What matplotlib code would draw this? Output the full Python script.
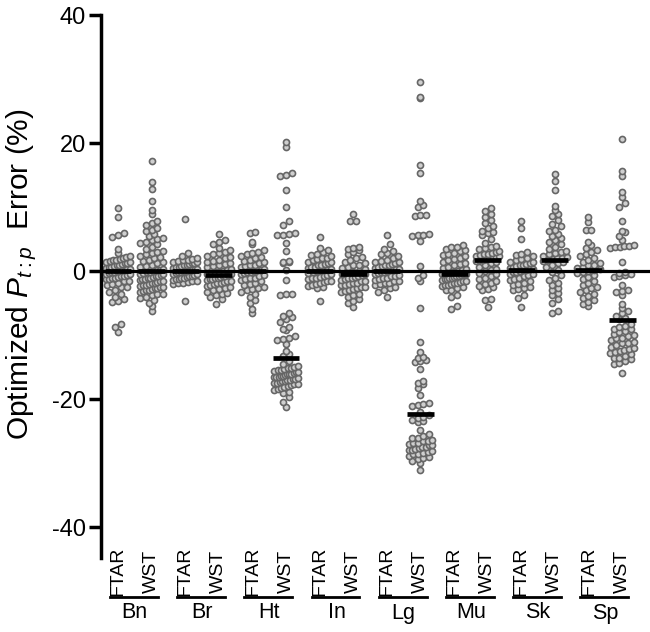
import numpy as np
import matplotlib
matplotlib.use('Agg')
import matplotlib.pyplot as plt
import matplotlib.transforms as mtransforms
from matplotlib.lines import Line2D

plt.rcParams['font.family'] = 'Liberation Sans'
plt.rcParams['mathtext.fontset'] = 'custom'
plt.rcParams['mathtext.it'] = 'Liberation Sans:italic'
plt.rcParams['mathtext.rm'] = 'Liberation Sans'
plt.rcParams['axes.unicode_minus'] = False

# dados (erro %, por tecido e metodo)
tissues = ['Bn', 'Br', 'Ht', 'In', 'Lg', 'Mu', 'Sk', 'Sp']
methods = ['FTAR', 'WST']

bn_ftar = [9.8, 8.4, 6.0, 5.6, 5.4, 3.5, 2.8, 2.3, 2.2, 2.0, 1.9, 1.8, 1.7, 1.6, 1.5, 1.4, 1.3, 1.2,
           1.1, 1.0, 0.9, 0.8, 0.7, 0.6, 0.5, 0.4, 0.3, 0.2, 0.1, 0.0, 0.0, -0.1, -0.2, -0.3, -0.4,
           -0.5, -0.6, -0.7, -0.8, -0.9, -1.0, -1.1, -1.2, -1.3, -1.5, -1.6, -1.8, -2.0, -2.2, -2.4,
           -2.5, -3.0, -3.3, -3.5, -4.0, -4.3, -4.6, -4.8, -8.3, -8.8, -9.5]
bn_wst = [17.2, 13.9, 12.8, 11.0, 9.6, 9.0, 7.8, 7.5, 7.2, 6.8, 6.5, 6.2, 5.8, 5.5, 5.2, 5.0, 4.8,
          4.6, 4.4, 4.2, 3.8, 3.5, 3.2, 3.0, 2.8, 2.6, 2.4, 2.2, 2.0, 1.8, 1.6, 1.4, 1.2, 1.0, 0.8,
          0.6, 0.4, 0.2, 0.1, 0.0, -0.1, -0.2, -0.3, -0.4, -0.5, -0.6, -0.7, -0.8, -0.9, -1.0, -1.1,
          -1.2, -1.3, -1.4, -1.5, -1.6, -1.7, -1.8, -1.9, -2.0, -2.1, -2.2, -2.3, -2.4, -2.5, -2.6,
          -2.7, -2.8, -2.9, -3.0, -3.1, -3.3, -3.5, -3.6, -3.8, -4.0, -4.2, -4.5, -5.0, -5.5, -6.2]
br_ftar = [8.1, 2.9, 2.4, 2.0, 1.9, 1.8, 1.7, 1.6, 1.5, 1.4, 1.3, 1.2, 1.1, 1.0, 0.9, 0.8, 0.7, 0.6,
           0.5, 0.4, 0.3, 0.2, 0.1, 0.0, 0.0, 0.0, -0.1, -0.2, -0.3, -0.4, -0.5, -0.6, -0.7, -0.8,
           -0.9, -1.0, -1.1, -1.2, -1.3, -1.4, -1.5, -1.6, -1.7, -1.8, -1.9, -2.0, -4.7]
br_wst = [5.8, 4.9, 4.6, 4.3, 3.6, 3.3, 3.0, 2.8, 2.6, 2.4, 2.2, 2.0, 1.8, 1.6, 1.5, 1.3, 1.1, 1.0,
          0.8, 0.6, 0.4, 0.2, 0.0, -0.1, -0.2, -0.3, -0.4, -0.5, -0.6, -0.7, -0.8, -0.9, -1.0, -1.1,
          -1.2, -1.3, -1.4, -1.5, -1.6, -1.7, -1.8, -1.9, -2.0, -2.2, -2.3, -2.5, -2.6, -2.8, -3.0,
          -3.2, -3.4, -3.5, -3.7, -4.1, -4.4, -5.1]
ht_ftar = [6.1, 6.0, 4.6, 4.2, 3.3, 3.0, 2.8, 2.6, 2.4, 2.2, 2.0, 1.8, 1.6, 1.4, 1.2, 1.0, 0.9, 0.8,
           0.6, 0.4, 0.2, 0.1, 0.0, -0.1, -0.2, -0.3, -0.4, -0.6, -0.8, -1.0, -1.1, -1.2, -1.4, -1.6,
           -1.8, -2.0, -2.2, -2.4, -2.6, -2.8, -3.0, -3.3, -3.6, -4.1, -4.5, -5.0, -5.9, -6.6]
ht_wst = [20.2, 19.4, 15.3, 15.0, 14.8, 12.7, 10.0, 7.9, 7.2, 5.9, 5.8, 5.7, 5.6, 4.4, 3.2, 1.6, 1.5,
          1.4, 1.3, 0.2, -1.4, -3.5, -3.6, -3.7, -6.6, -7.0, -7.2, -7.4, -8.0, -8.8, -9.0, -9.2,
          -10.1, -10.5, -10.6, -10.8, -11.4, -12.5, -13.0, -13.3, -14.0, -14.5, -14.8, -15.0, -15.1,
          -15.2, -15.3, -15.4, -15.5, -15.6, -15.7, -15.8, -15.9, -16.0, -16.0, -16.1, -16.2, -16.3,
          -16.4, -16.5, -16.5, -16.6, -16.7, -16.8, -16.9, -17.0, -17.0, -17.1, -17.2, -17.3, -17.4,
          -17.5, -17.6, -17.7, -17.8, -18.0, -18.1, -18.2, -18.4, -18.5, -18.8, -19.0, -19.6, -20.4,
          -21.2]
in_ftar = [5.4, 3.6, 3.3, 3.0, 2.7, 2.5, 2.3, 2.1, 2.0, 1.9, 1.7, 1.5, 1.4, 1.3, 1.1, 1.0, 0.9, 0.7,
           0.6, 0.5, 0.3, 0.2, 0.1, 0.0, -0.1, -0.3, -0.5, -0.6, -0.7, -0.9, -1.0, -1.1, -1.3, -1.5,
           -1.6, -1.7, -1.9, -2.0, -2.1, -2.3, -2.5, -2.7, -4.6]
in_wst = [9.0, 7.9, 7.8, 3.8, 3.6, 3.4, 3.3, 3.0, 2.6, 2.2, 2.0, 1.8, 1.5, 1.2, 1.0, 0.9, 0.6, 0.5,
          0.3, 0.0, -0.1, -0.2, -0.4, -0.5, -0.6, -0.8, -0.9, -1.0, -1.1, -1.2, -1.4, -1.5, -1.6,
          -1.8, -1.9, -2.0, -2.1, -2.2, -2.4, -2.5, -2.6, -2.8, -3.0, -3.1, -3.2, -3.5, -3.8, -4.0,
          -4.3, -4.6, -5.0, -5.6]
lg_ftar = [5.7, 4.2, 3.5, 3.2, 2.9, 2.6, 2.3, 2.0, 1.8, 1.6, 1.5, 1.4, 1.2, 1.1, 1.0, 0.9, 0.8, 0.6,
           0.5, 0.4, 0.3, 0.2, 0.1, 0.0, -0.1, -0.2, -0.3, -0.4, -0.6, -0.7, -0.8, -1.0, -1.1, -1.2,
           -1.4, -1.5, -1.6, -1.8, -1.9, -2.0, -2.2, -2.4, -2.7, -3.0, -3.3, -4.0]
lg_wst = [29.5, 27.2, 27.0, 16.6, 15.3, 11.0, 10.3, 10.0, 8.8, 8.7, 8.6, 5.8, 5.7, 5.6, 5.5, 4.7, 0.8,
          -0.6, -1.0, -1.6, -5.7, -11.0, -12.6, -13.4, -13.6, -13.9, -14.0, -14.2, -15.3, -17.2,
          -17.4, -17.6, -18.2, -19.3, -20.6, -20.8, -20.9, -21.0, -22.0, -22.4, -22.8, -23.0, -23.2,
          -23.4, -23.6, -24.8, -25.5, -25.8, -26.0, -26.1, -26.4, -26.5, -26.6, -26.8, -26.9, -27.0,
          -27.1, -27.2, -27.4, -27.5, -27.6, -27.8, -27.9, -28.0, -28.1, -28.2, -28.4, -28.5, -28.6,
          -28.8, -29.0, -29.2, -29.3, -29.6, -30.0, -31.1]
mu_ftar = [4.1, 3.8, 3.7, 3.5, 3.3, 3.1, 2.9, 2.7, 2.5, 2.3, 2.1, 1.9, 1.7, 1.5, 1.3, 1.1, 0.9, 0.7,
           0.5, 0.3, 0.1, 0.0, -0.1, -0.2, -0.3, -0.4, -0.5, -0.5, -0.6, -0.7, -0.8, -0.9, -1.0,
           -1.1, -1.2, -1.3, -1.4, -1.5, -1.6, -1.7, -1.8, -1.9, -2.0, -2.1, -2.2, -2.3, -2.5, -2.7,
           -2.9, -3.0, -3.8, -4.0, -5.4, -5.9]
mu_wst = [9.8, 9.4, 9.0, 8.5, 8.0, 7.5, 7.0, 6.8, 6.3, 6.1, 5.9, 5.7, 5.0, 4.4, 4.0, 3.8, 3.6, 3.4,
          3.2, 3.0, 2.8, 2.7, 2.6, 2.5, 2.4, 2.3, 2.2, 2.1, 2.0, 1.9, 1.8, 1.7, 1.6, 1.4, 1.2, 1.0,
          0.7, 0.4, 0.2, 0.0, -0.3, -0.5, -0.8, -1.0, -1.3, -1.5, -1.8, -2.0, -2.3, -2.5, -2.8, -3.0,
          -4.3, -4.5, -5.6]
sk_ftar = [7.9, 6.8, 5.0, 3.0, 2.7, 2.5, 2.3, 2.1, 1.9, 1.7, 1.5, 1.4, 1.3, 1.1, 1.0, 0.9, 0.8, 0.7,
           0.5, 0.4, 0.3, 0.2, 0.1, 0.0, -0.1, -0.2, -0.4, -0.5, -0.6, -0.8, -1.0, -1.2, -1.4, -1.6,
           -1.8, -2.0, -2.2, -2.4, -2.6, -2.8, -3.0, -3.8, -4.2, -5.6]
sk_wst = [15.2, 14.1, 12.7, 10.2, 9.6, 9.0, 8.6, 8.0, 7.4, 7.0, 6.5, 6.2, 5.8, 5.5, 5.2, 4.8, 4.5,
          4.2, 3.8, 3.5, 3.2, 3.0, 2.8, 2.6, 2.4, 2.2, 2.1, 2.0, 1.9, 1.8, 1.6, 1.4, 1.2, 1.0, 0.6,
          0.2, -0.2, -0.6, -1.0, -1.4, -1.8, -2.2, -2.6, -3.0, -3.4, -3.8, -4.3, -5.0, -6.2, -6.6]
sp_ftar = [8.5, 7.6, 6.5, 6.4, 4.6, 4.1, 3.6, 3.3, 3.0, 2.7, 2.4, 2.1, 1.8, 1.5, 1.2, 1.0, 0.9, 0.6,
           0.5, 0.3, 0.2, 0.0, -0.1, -0.3, -0.6, -0.9, -1.2, -1.5, -1.8, -2.1, -2.4, -2.7, -3.0,
           -3.3, -3.6, -3.9, -4.2, -4.5, -4.8, -5.1, -5.4]
sp_wst = [20.7, 15.7, 14.9, 12.3, 11.5, 10.7, 10.0, 7.9, 6.2, 6.1, 5.5, 4.9, 4.1, 4.0, 3.9, 3.8, 3.7,
          3.6, 1.5, -0.1, -0.3, -0.5, -0.6, -0.8, -0.9, -2.2, -3.0, -3.1, -3.2, -3.8, -5.1, -5.8,
          -6.3, -6.6, -7.0, -7.3, -7.5, -8.2, -8.5, -8.8, -9.0, -9.1, -9.3, -9.5, -9.8, -10.0, -10.2,
          -10.4, -10.5, -10.8, -11.0, -11.2, -11.3, -11.5, -11.8, -12.0, -12.1, -12.3, -12.5, -12.7,
          -12.8, -13.0, -13.3, -13.5, -13.6, -13.8, -14.0, -14.3, -14.5, -15.9]

groups = [bn_ftar, bn_wst, br_ftar, br_wst, ht_ftar, ht_wst, in_ftar, in_wst,
          lg_ftar, lg_wst, mu_ftar, mu_wst, sk_ftar, sk_wst, sp_ftar, sp_wst]
medians = [0.0, 0.0, 0.0, -0.6, 0.0, -13.5, 0.0, -0.5, 0.0, -22.3, -0.5, 1.8, 0.2, 1.8, 0.2, -7.6]


def swarm(vals, center, binw=0.95, step=0.17, maxhalf=0.35):
    # distribui os pontos lado a lado como no Prism
    v = np.sort(np.array(vals, dtype=float))
    b = np.round(v / binw)
    xs = np.zeros_like(v)
    for k in np.unique(b):
        idx = np.where(b == k)[0]
        n = len(idx)
        st = step if n < 2 else min(step, 2 * maxhalf / (n - 1))
        xs[idx] = center + (np.arange(n) - (n - 1) / 2) * st
    return xs, v


fig = plt.figure(figsize=(6.5, 6.32), dpi=100)
ax = fig.add_axes([101 / 650, 1 - 558 / 632, 1 - 101 / 650, (558 - 15) / 632])

ax.axhline(0, color='black', lw=2.3, zorder=3)
for i, vals in enumerate(groups):
    xs, ys = swarm(vals, i)
    ax.scatter(xs, ys, s=19, facecolor='#cfcfcf', edgecolor='#666666', linewidth=1.2, zorder=2)
    ax.plot([i - 0.4, i + 0.4], [medians[i], medians[i]], color='black', lw=3.4,
            solid_capstyle='butt', zorder=4)

ax.set_xlim(-0.506, 15.83)
ax.set_ylim(-44.8, 40)
ax.set_yticks([-40, -20, 0, 20, 40])
ax.set_xticks([])
for s in ['top', 'right', 'bottom']:
    ax.spines[s].set_visible(False)
ax.spines['left'].set_linewidth(2.5)
ax.tick_params(axis='y', length=9, width=2.5, labelsize=17, pad=2)
fig.text(22 / 650, 1 - 274 / 632, r'Optimized $P_{t:p}$  Error (%)', rotation=90,
         ha='center', va='center', fontsize=21.5)

# rotulos das categorias embaixo
trans = mtransforms.blended_transform_factory(ax.transData, fig.transFigure)
for t, name in enumerate(tissues):
    c0 = 2 * t
    c1 = 2 * t + 1
    for j, m in enumerate(methods):
        ax.text(c0 + j, 1 - 571 / 632, m, rotation=90, ha='center', va='center',
                fontsize=14, transform=trans, clip_on=False)
    ax.add_line(Line2D([c0 - 0.24, c1 + 0.18], [1 - 597 / 632, 1 - 597 / 632], color='black',
                       lw=2, transform=trans, clip_on=False))
    ax.text(c0 + 0.5, 1 - 613 / 632, name, ha='center', va='center', fontsize=15.5,
            transform=trans, clip_on=False)

fig.savefig('out.png', dpi=100)
